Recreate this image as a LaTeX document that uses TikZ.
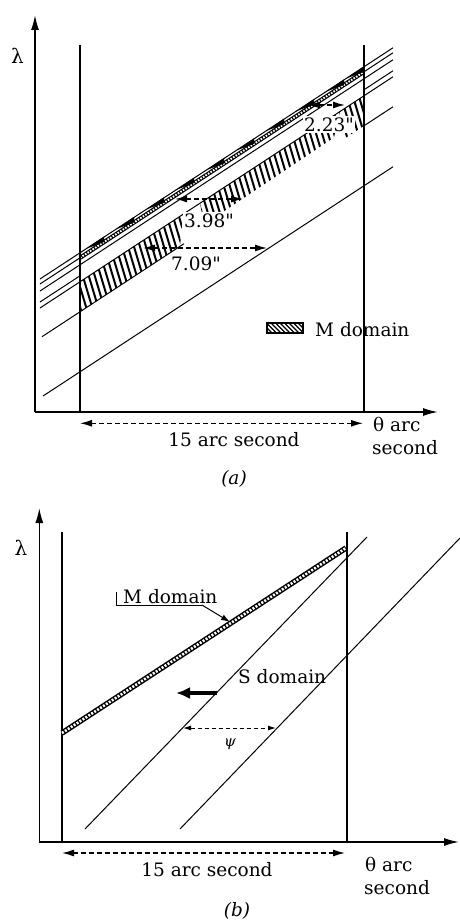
\documentclass[tikz,border=0pt]{standalone}
\usepackage{fontspec}
\setmainfont{DejaVu Serif}
\newfontfamily\qfont{DejaVu Serif}
\usetikzlibrary{arrows.meta}
\newcommand\figfs{\fontsize{18.5}{21}\selectfont}
\newcommand\qd{{\qfont"}}
\begin{document}
\begin{tikzpicture}[x=1pt,y=-1pt,
  declare function={ya(\p,\q)=\q-0.655*(\p-40);},
  txt/.style={font=\figfs, inner sep=0pt},
  axisline/.style={line width=1.5pt,-{Latex[length=15pt,width=8pt]}},
  guide/.style={line width=1.2pt},
  curve/.style={line width=1pt},
  dimline/.style={line width=1.3pt, dash pattern=on 5pt off 3pt, {Latex[length=12pt,width=7pt]}-{Latex[length=12pt,width=7pt]}},
  hatchstroke/.style={line width=2pt},
  lbox/.style={txt, fill=white, inner sep=1.5pt},
]
\useasboundingbox (0,0) rectangle (460,920);

% ================= panel (a) =================
% hatched regions (M domain)
\begin{scope}
  \clip (80,{ya(80,308)}) -- (183,{ya(183,308)}) -- (180,{ya(180,338)}) -- (80,{ya(80,338)}) -- cycle;
  \foreach \h in {-120,-114,...,380} \draw[hatchstroke] (\h,0) -- ({\h+126},420);
\end{scope}
\begin{scope}
  \clip (200,{ya(200,308)}) -- (340,{ya(340,308)}) -- (334,{ya(334,308)+22}) -- (204,{ya(204,308)+24}) -- cycle;
  \foreach \h in {-120,-114,...,380} \draw[hatchstroke] (\h,0) -- ({\h+126},420);
\end{scope}
\begin{scope}
  \clip (343,{ya(343,308)}) -- (363,{ya(363,308)}) -- (363,{ya(363,338)}) -- (343,{ya(343,338)}) -- cycle;
  \foreach \h in {-120,-114,...,380} \draw[hatchstroke] (\h,0) -- ({\h+126},420);
\end{scope}

% parallel lines
\draw[curve] (40,{ya(40,279)}) -- (393,{ya(393,279)});
\draw[curve] (40,{ya(40,284)}) -- (80,{ya(80,284)});
\draw[curve] (364,{ya(364,284)}) -- (393,{ya(393,284)});
\draw[curve] (40,{ya(40,291)}) -- (393,{ya(393,291)});
\draw[curve] (40,{ya(40,302)}) -- (80,{ya(80,302)});
\draw[curve] (364,{ya(364,302)}) -- (393,{ya(393,302)});
\draw[curve] (40,{ya(40,308)}) -- (393,{ya(393,308)});
\draw[curve] (42,{ya(42,338)}) -- (184,{ya(184,338)});
\draw[curve] (363,{ya(363,338)}) -- (393,{ya(393,338)});
\draw[curve] (43,{ya(43,398)}) -- (393,{ya(393,398)});
% beaded M-domain line
\draw[line width=4.2pt] (80,{ya(80,284)}) -- (364,{ya(364,284)});
\draw[white, line width=1.9pt, dash pattern=on 1.6pt off 1.4pt] (80,{ya(80,284)}) -- (364,{ya(364,284)});
% black wedges
\foreach \w in {86,116,146,176,206,236,266,296,326,346}
  \fill ({\w},{ya(\w,279)}) -- ({\w+18},{ya(\w+18,278.5)}) -- ({\w+18},{ya(\w+18,284)}) -- cycle;

% axes and verticals
\coordinate (ao) at (35,412);
\coordinate (ayt) at (35,15);
\coordinate (axt) at (438,412);
\draw[axisline] (ao) -- (ayt);
\draw[axisline] (ao) -- (axt);
\draw[guide] (80,45) -- (80,412);
\draw[guide] (364,45) -- (364,412);
\node[font=\fontsize{20}{22}\selectfont, inner sep=0pt] (alam) at (17.5,56) {λ};

% dimension arrows
\coordinate (d7a) at (143,248); \coordinate (d7b) at (267,248);
\draw[dimline] (d7a) -- (d7b);
\coordinate (d3a) at (175,199); \coordinate (d3b) at (243,199);
\draw[dimline] (d3a) -- (d3b);
\coordinate (d2a) at (308,105); \coordinate (d2b) at (345,105);
\draw[dimline] (d2a) -- (d2b);
\node[lbox, anchor=base] (l709) at (196,270.5) {7.09\qd};
\node[lbox, anchor=base] (l398) at (209,227.3) {3.98\qd};
\node[lbox, anchor=base] (l223) at (329,131.7) {2.23\qd};

% legend
\begin{scope}
  \clip (267,323) rectangle (303,333);
  \foreach \h in {230,234.5,...,306} \draw[line width=1.3pt] (\h,300) -- ({\h+40},340);
\end{scope}
\draw[line width=1.2pt] (267,323) rectangle (303,333);
\node[txt, anchor=base west] (leg) at (315,336) {M domain};

% 15 arc second
\coordinate (sa1) at (80,423.3); \coordinate (sa2) at (363,423.3);
\draw[dimline] (sa1) -- (sa2);
\node[txt, anchor=base] (a15) at (234,446.5) {15 arc second};
\node[txt, anchor=base west] (ath) at (373,431.5) {θ arc};
\node[txt, anchor=base west] (ase) at (372,454) {second};
\node[txt, anchor=base] (acap) at (234,484) {\itshape (a)};

% ================= panel (b) =================
\coordinate (bo) at (39.3,842);
\coordinate (byt) at (39.3,508);
\coordinate (bxt) at (459,842);
\draw[axisline] (bo) -- (byt);
\draw[axisline] (bo) -- (bxt);
\draw[guide] (62,532) -- (62,842);
\draw[guide] (347,532) -- (347,842);
\node[font=\fontsize{20}{22}\selectfont, inner sep=0pt] (blam) at (21,548) {λ};

% beaded line
\draw[line width=5.5pt] (62,733) -- (346,548);
\draw[white, line width=2.6pt, dash pattern=on 2pt off 1.5pt] (62,733) -- (346,548);

% S domain lines
\draw[curve] (85,829) -- (367,537);
\draw[curve] (180,829) -- (460,538);

% M domain label with leader
\node[txt, anchor=base west] (bm) at (123,603) {M domain};
\coordinate (bm1) at (116,592);
\coordinate (bm2) at (116,605);
\coordinate (bm3) at (202,605);
\coordinate (bm4) at (230,622);
\draw[line width=1pt] (bm1) -- (bm2) -- (bm3);
\draw[line width=1pt, -{Latex[length=9pt,width=6pt]}] (bm3) -- (bm4);

% S domain
\node[txt, anchor=base west] (bs) at (238,683.5) {S domain};
\coordinate (ta) at (217,693); \coordinate (tb) at (176,693);
\draw[line width=4.5pt, -{Latex[length=14pt,width=12pt]}] (ta) -- (tb);

% psi
\coordinate (pa) at (183,728); \coordinate (pb) at (276,728);
\draw[line width=1pt, dash pattern=on 4pt off 3pt, {Latex[length=8pt,width=5pt]}-{Latex[length=8pt,width=5pt]}] (pa) -- (pb);
\node[font=\fontsize{15}{17}\selectfont\itshape, inner sep=0pt] (psi) at (230,744) {ψ};

% 15 arc second
\coordinate (sb1) at (62,853); \coordinate (sb2) at (345,853);
\draw[dimline] (sb1) -- (sb2);
\node[txt, anchor=base] (b15) at (207,876.5) {15 arc second};
\node[txt, anchor=base west] (bth) at (365,871.7) {θ arc};
\node[txt, anchor=base west] (bse) at (364,894.3) {second};
\node[txt, anchor=base] (bcap) at (237,916) {\itshape (b)};
\end{tikzpicture}
\end{document}
